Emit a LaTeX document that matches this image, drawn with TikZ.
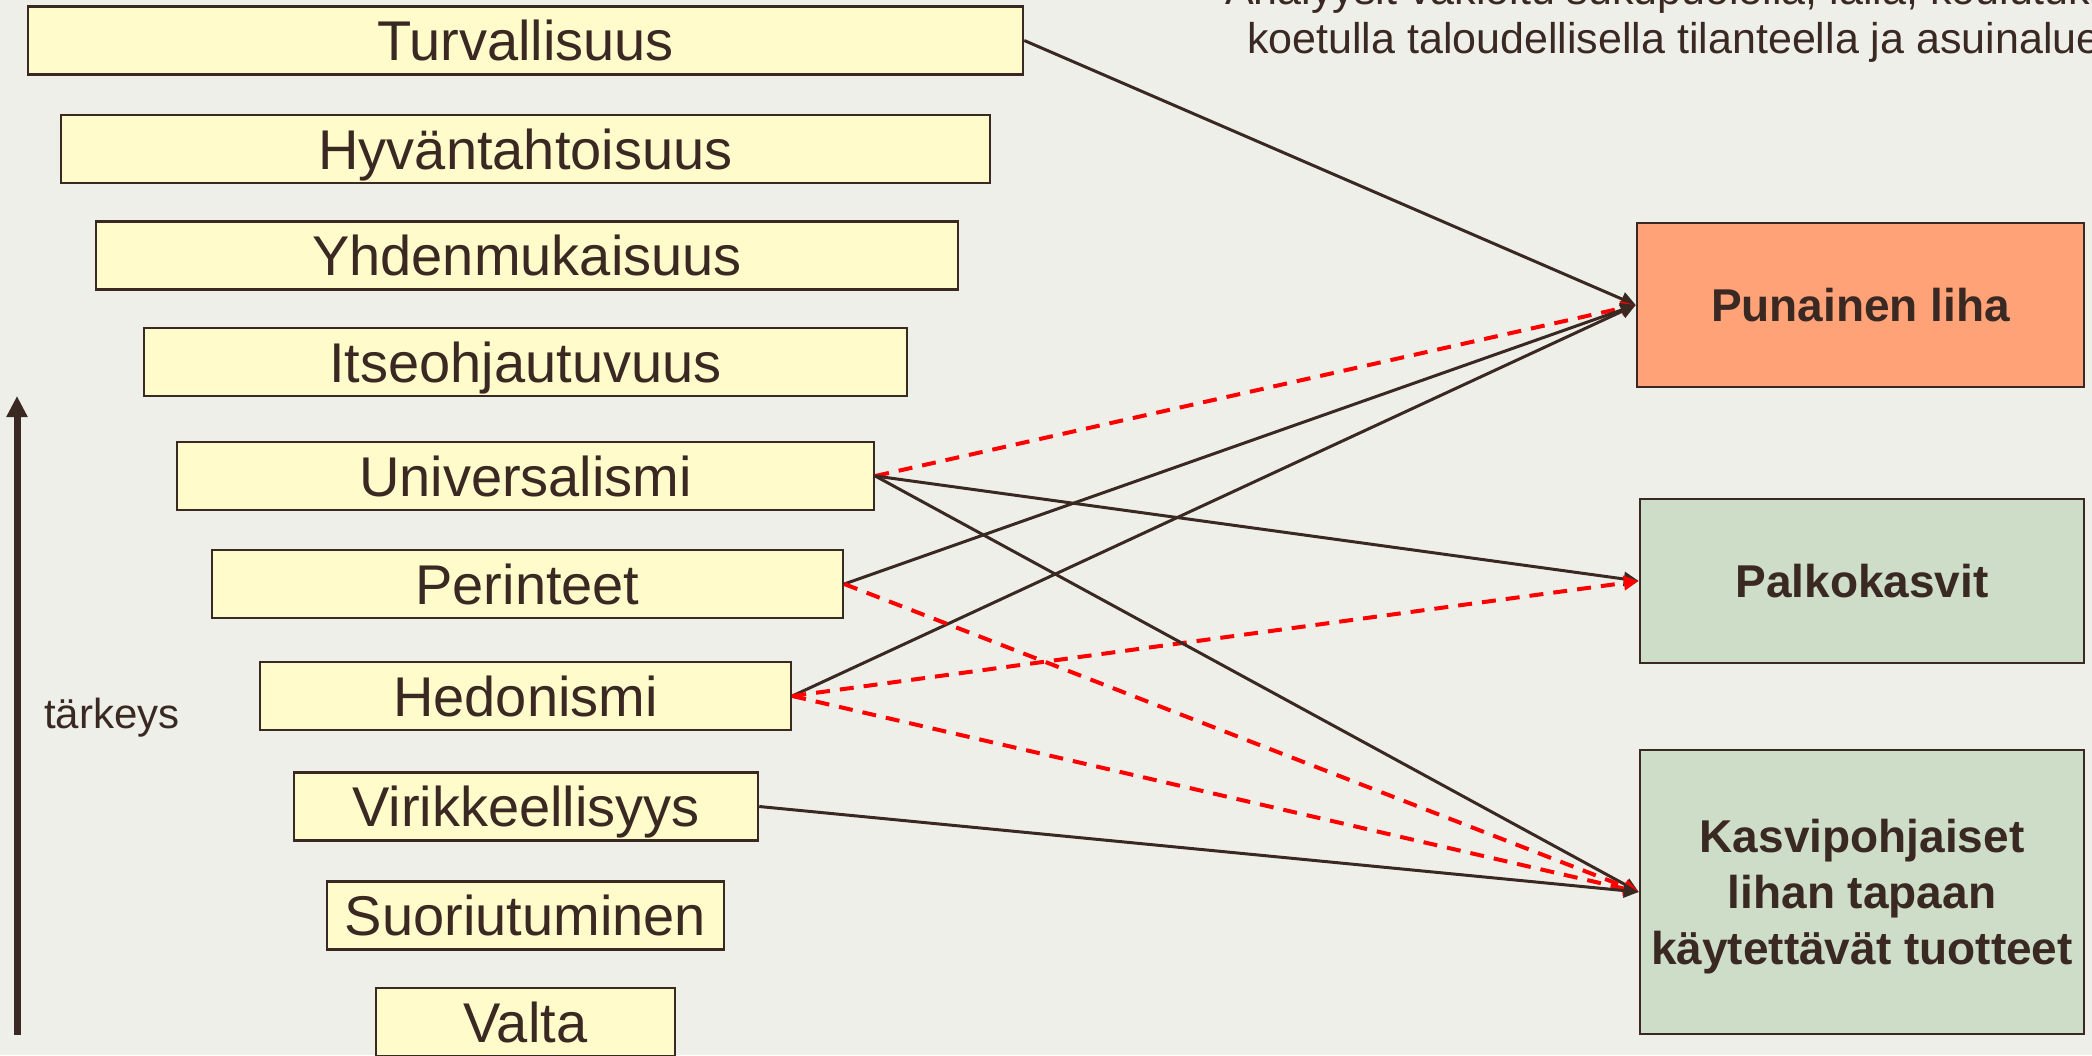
\documentclass[tikz,border=0pt]{standalone}
\usepackage{fontspec}
\setmainfont{Liberation Sans}
\usetikzlibrary{arrows.meta}

\definecolor{bgcol}{RGB}{239,239,233}
\definecolor{ink}{RGB}{58,40,34}
\definecolor{valfill}{RGB}{255,251,202}
\definecolor{meatfill}{RGB}{255,162,120}
\definecolor{plantfill}{RGB}{205,221,199}
\definecolor{negred}{RGB}{255,0,0}

\tikzset{
  valbox/.style={draw=ink, line width=2.5pt, fill=valfill, text=ink,
    minimum height=68pt, inner sep=0pt, text height=40pt, text depth=0pt,
    font=\fontsize{56}{67}\selectfont},
  foodbox/.style={draw=ink, line width=2.5pt, text=ink, inner sep=0pt,
    align=center, text height=33pt, text depth=0pt,
    font=\bfseries\fontsize{46}{56}\selectfont},
  poslink/.style={draw=ink, line width=3pt,
    -{Triangle[length=15pt,width=14pt]}},
  neglink/.style={draw=negred, line width=4pt, dash pattern=on 14pt off 10pt,
    -{Triangle[length=15pt,width=14pt]}},
  axisline/.style={draw=ink, line width=7pt,
    -{Triangle[length=21pt,width=20pt]}},
  plain/.style={text=ink, inner sep=0pt},
}

\begin{document}
\begin{tikzpicture}[x=1pt,y=-1pt]
\useasboundingbox (0,0) rectangle (2092,1055);
\clip (0,0) rectangle (2092,1055);
\fill[bgcol] (0,0) rectangle (2092,1055);

% heading note
\node[plain, anchor=base west, font=\fontsize{43}{49}\selectfont] (note1) at (1225,4)
  {Analyysit vakioitu sukupuolella, iällä, koulutuksella,};
\node[plain, anchor=base west, font=\fontsize{43}{49}\selectfont] (note2) at (1247,53)
  {koetulla taloudellisella tilanteella ja asuinalueella};

% values, ordered by importance
\node[valbox, minimum width=995pt] (turv) at (525.5,40.5) {Turvallisuus};
\node[valbox, minimum width=929pt] (hyva) at (525.5,149) {Hyväntahtoisuus};
\node[valbox, minimum width=862pt] (yhde) at (527,255.5) {Yhdenmukaisuus};
\node[valbox, minimum width=763pt] (itse) at (525.5,362) {Itseohjautuvuus};
\node[valbox, minimum width=697pt] (univ) at (525.5,476) {Universalismi};
\node[valbox, minimum width=631pt] (peri) at (527.5,584) {Perinteet};
\node[valbox, minimum width=531pt] (hedo) at (525.5,696) {Hedonismi};
\node[valbox, minimum width=464pt] (viri) at (526,806.5) {Virikkeellisyys};
\node[valbox, minimum width=397pt] (suor) at (525.5,915.5) {Suoriutuminen};
\node[valbox, minimum width=299pt] (valt) at (525.5,1022) {Valta};

% importance axis
\coordinate (axisbot) at (17,1035);
\coordinate (axistop) at (17,396);
\draw[axisline] (axisbot) -- (axistop);
\node[plain, anchor=base west, font=\fontsize{42}{50}\selectfont] (tark) at (44,728) {tärkeys};

% food groups
\node[foodbox, fill=meatfill, minimum width=447pt, minimum height=164pt] (meat) at (1860.5,305) {Punainen liha};
\node[foodbox, fill=plantfill, minimum width=444pt, minimum height=164pt] (legu) at (1862,581) {Palkokasvit};
\node[foodbox, fill=plantfill, minimum width=444pt, minimum height=284pt, text height=145pt] (subs) at (1862,892)
  {Kasvipohjaiset\\lihan tapaan\\käytettävät tuotteet};

% associations
\draw[poslink] (turv.east) -- (meat.west);
\draw[neglink] (univ.east) -- (meat.west);
\draw[poslink] (peri.east) -- (meat.west);
\draw[poslink] (hedo.east) -- (meat.west);
\draw[poslink] (univ.east) -- (legu.west);
\draw[neglink] (hedo.east) -- (legu.west);
\draw[poslink] (univ.east) -- (subs.west);
\draw[neglink] (peri.east) -- (subs.west);
\draw[neglink] (hedo.east) -- (subs.west);
\draw[poslink] (viri.east) -- (subs.west);
\end{tikzpicture}
\end{document}
